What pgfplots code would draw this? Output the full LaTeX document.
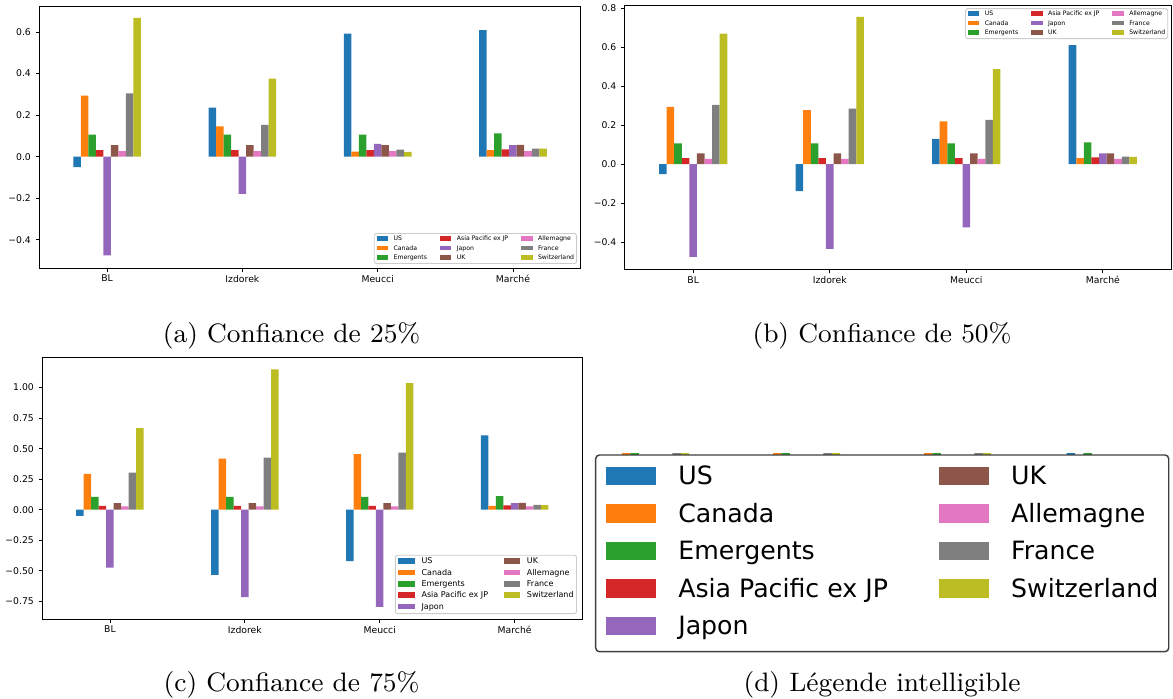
\documentclass[border=0pt]{standalone}
\usepackage{fontspec}
\usepackage{pgfplots}
\usepackage{pgfplotstable}
\pgfplotsset{compat=1.18}
\newfontfamily\djv{DejaVu Sans}
\newcommand\ftick{\djv\fontsize{3.2}{3.8}\selectfont}
\newcommand\fla{\djv\fontsize{2.13}{2.6}\selectfont}
\newcommand\flc{\djv\fontsize{2.76}{3.3}\selectfont}
\newcommand\fld{\djv\fontsize{8.7}{10.4}\selectfont}
\newcommand\fcap{\rmfamily\fontsize{9.2}{11}\selectfont}
\definecolor{cUS}{HTML}{1F77B4}
\definecolor{cCA}{HTML}{FF7F0E}
\definecolor{cEM}{HTML}{2CA02C}
\definecolor{cAP}{HTML}{D62728}
\definecolor{cJP}{HTML}{9467BD}
\definecolor{cUK}{HTML}{8C564B}
\definecolor{cDE}{HTML}{E377C2}
\definecolor{cFR}{HTML}{7F7F7F}
\definecolor{cCH}{HTML}{BCBD22}

% Confiance 25%
\pgfplotstableread{
x US CA EM AP JP UK DE FR CH
0 -0.051 0.294 0.106 0.031 -0.475 0.055 0.027 0.304 0.668
1 0.236 0.146 0.106 0.031 -0.179 0.055 0.027 0.153 0.376
2 0.592 0.024 0.106 0.031 0.061 0.055 0.027 0.034 0.023
3 0.609 0.031 0.112 0.035 0.055 0.056 0.027 0.039 0.038
}\tabA
% Confiance 50%
\pgfplotstableread{
x US CA EM AP JP UK DE FR CH
0 -0.051 0.294 0.106 0.031 -0.475 0.055 0.027 0.304 0.668
1 -0.138 0.277 0.106 0.031 -0.434 0.055 0.027 0.284 0.754
2 0.130 0.219 0.106 0.031 -0.323 0.055 0.027 0.227 0.487
3 0.609 0.031 0.112 0.035 0.055 0.056 0.027 0.039 0.038
}\tabB
% Confiance 75%
\pgfplotstableread{
x US CA EM AP JP UK DE FR CH
0 -0.051 0.294 0.106 0.031 -0.475 0.055 0.027 0.304 0.668
1 -0.533 0.418 0.106 0.031 -0.716 0.055 0.027 0.426 1.150
2 -0.421 0.456 0.106 0.031 -0.795 0.055 0.027 0.467 1.036
3 0.609 0.031 0.112 0.035 0.055 0.056 0.027 0.039 0.038
}\tabC

\pgfplotsset{
  mpl/.style={
    scale only axis,
    xmin=-0.5, xmax=3.5,
    xtick={0,1,2,3},
    xticklabels={BL,Izdorek,Meucci,Marché},
    axis line style={black, line width=0.3pt},
    tick style={black, line width=0.3pt},
    major tick length=1.28pt,
    tick align=outside,
    tick pos=left,
    tick label style={font=\ftick},
    xticklabel style={inner sep=1pt},
    yticklabel style={inner sep=1.5pt},
  },
  bars/.style={ybar, bar width=0.05556, draw=none, forget plot},
  smalllegend/.style={
    legend columns=3,
    legend image code/.code={\fill[##1, draw=none, sharp corners] (0pt,-0.05pt) rectangle (3.9pt,1.45pt);},
    legend style={font=\fla, draw=black!20, line width=0.3pt, rounded corners=0.6pt,
      fill=white, inner xsep=0.86pt, inner ysep=0.83pt, row sep=1.15pt,
      cells={anchor=base west},
      nodes={inner sep=0pt, text height=1.6pt, text depth=0.53pt},
      /tikz/every odd column/.append style={column sep=1.9pt},
      /tikz/every even column/.append style={column sep=4.5pt}},
  },
}

\newcommand\series[1]{%
  \addplot[bars, bar shift=-0.22222, fill=cUS] table[x=x,y=US]{#1};
  \addplot[bars, bar shift=-0.16667, fill=cCA] table[x=x,y=CA]{#1};
  \addplot[bars, bar shift=-0.11111, fill=cEM] table[x=x,y=EM]{#1};
  \addplot[bars, bar shift=-0.05556, fill=cAP] table[x=x,y=AP]{#1};
  \addplot[bars, bar shift=0,        fill=cJP] table[x=x,y=JP]{#1};
  \addplot[bars, bar shift=0.05556,  fill=cUK] table[x=x,y=UK]{#1};
  \addplot[bars, bar shift=0.11111,  fill=cDE] table[x=x,y=DE]{#1};
  \addplot[bars, bar shift=0.16667,  fill=cFR] table[x=x,y=FR]{#1};
  \addplot[bars, bar shift=0.22222,  fill=cCH] table[x=x,y=CH]{#1};
}
\newcommand\LE[2]{\addlegendimage{fill=#1, draw=none}\addlegendentry{#2}}
% three columns, filled column by column
\newcommand\legThree{%
  \LE{cUS}{US}\LE{cAP}{Asia Pacific ex JP}\LE{cDE}{Allemagne}%
  \LE{cCA}{Canada}\LE{cJP}{Japon}\LE{cFR}{France}%
  \LE{cEM}{Emergents}\LE{cUK}{UK}\LE{cCH}{Switzerland}}
% two columns, filled column by column
\newcommand\legTwo{%
  \LE{cUS}{US}\LE{cUK}{UK}%
  \LE{cCA}{Canada}\LE{cDE}{Allemagne}%
  \LE{cEM}{Emergents}\LE{cFR}{France}%
  \LE{cAP}{Asia Pacific ex JP}\LE{cCH}{Switzerland}%
  \LE{cJP}{Japon}}

\begin{document}
\begin{tikzpicture}
\path[use as bounding box] (0pt,0pt) rectangle (404.685pt,-241.155pt);

% (a)
\begin{axis}[mpl, smalllegend,
  at={(13.63pt,-92.46pt)}, anchor=south west,
  width=186.68pt, height=90.39pt,
  ymin=-0.536, ymax=0.725,
  ytick={-0.4,-0.2,0,0.2,0.4,0.6},
  yticklabels={−0.4,−0.2,0.0,0.2,0.4,0.6},
  legend style={at={(1,0)}, anchor=south east, xshift=-1.24pt, yshift=1.38pt},
]
\series{\tabA}
\legThree
\end{axis}

% (b)
\begin{axis}[mpl, smalllegend,
  at={(215.59pt,-92.91pt)}, anchor=south west,
  width=188.44pt, height=91.18pt,
  ymin=-0.538, ymax=0.815,
  ytick={-0.4,-0.2,0,0.2,0.4,0.6,0.8},
  yticklabels={−0.4,−0.2,0.0,0.2,0.4,0.6,0.8},
  legend style={at={(1,1)}, anchor=north east, xshift=-1pt, yshift=-1.1pt},
]
\series{\tabB}
\legThree
\end{axis}

% (c)
\begin{axis}[mpl,
  at={(14.66pt,-213.56pt)}, anchor=south west,
  width=186.16pt, height=90.15pt,
  ymin=-0.895, ymax=1.245,
  ytick={-0.75,-0.5,-0.25,0,0.25,0.5,0.75,1},
  yticklabels={−0.75,−0.50,−0.25,0.00,0.25,0.50,0.75,1.00},
  legend columns=2,
  legend image code/.code={\fill[#1, draw=none, sharp corners] (0pt,-0.07pt) rectangle (5.76pt,1.9pt);},
  legend style={at={(1,0)}, anchor=south east, xshift=-1.8pt, yshift=1.73pt,
    font=\flc, draw=black!20, line width=0.3pt, rounded corners=0.7pt,
    fill=white, inner xsep=0.97pt, inner ysep=0.82pt, row sep=1.17pt,
    cells={anchor=base west},
    nodes={inner sep=0pt, text height=2.07pt, text depth=0.69pt},
    /tikz/every odd column/.append style={column sep=2.3pt},
    /tikz/every even column/.append style={column sep=5.35pt}},
]
\series{\tabC}
\legTwo
\end{axis}

% (d) hidden plot behind the big legend: only a thin strip of the bar tops shows
\begin{axis}[
  at={(204.59pt,-158.7pt)}, anchor=south west,
  scale only axis, width=199.41pt, height=2.31pt,
  hide axis, clip=true,
  xmin=-0.387, xmax=3.441, ymin=0.07, ymax=0.09,
]
\series{\tabC}
\end{axis}

% (d) legend only
\begin{axis}[
  at={(304.36pt,-190.91pt)}, anchor=center,
  scale only axis, width=199.1pt, height=67.9pt,
  hide axis, xmin=0, xmax=1, ymin=0, ymax=1,
  legend columns=2,
  legend image code/.code={\fill[#1, draw=none, sharp corners] (0pt,-0.3pt) rectangle (17.3pt,6.1pt);},
  legend style={at={(0.5,0.5)}, anchor=center,
    font=\fld, draw=black!75, line width=0.5pt, rounded corners=1.3pt,
    fill=white, inner xsep=3.6pt, inner ysep=3.7pt, row sep=4.24pt,
    cells={anchor=base west},
    nodes={inner sep=0pt, text height=6.5pt, text depth=2.2pt},
    /tikz/every odd column/.append style={column sep=7.6pt},
    /tikz/every even column/.append style={column sep=17.6pt}},
]
\legTwo
\end{axis}

% captions
\node[font=\fcap] at (100.6pt,-115.92pt) {(a) Confiance de 25\%};
\node[font=\fcap] at (304.3pt,-115.92pt) {(b) Confiance de 50\%};
\node[font=\fcap] at (100.6pt,-236.3pt) {(c) Confiance de 75\%};
\node[font=\fcap] at (304.3pt,-236.3pt) {(d) Légende intelligible};
\end{tikzpicture}
\end{document}
